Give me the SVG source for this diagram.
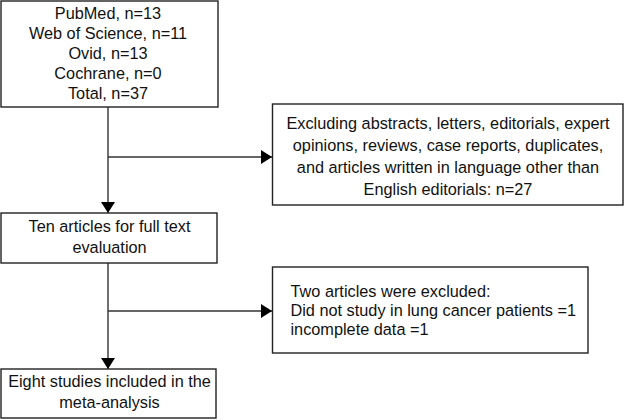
<svg xmlns="http://www.w3.org/2000/svg" width="626" height="420" viewBox="0 0 626 420">
<style>
.box{fill:#fff;stroke:#222;stroke-width:1.4}
.t{font-family:"Liberation Sans",Arial,sans-serif;font-size:16.3px;fill:#111}
.c{text-anchor:middle}
.ln{fill:none;stroke:#333;stroke-width:1.4}
</style>
<defs>
<marker id="ah" markerUnits="userSpaceOnUse" markerWidth="12" markerHeight="14" refX="11" refY="7" orient="auto">
<path d="M0,0 L11,7 L0,14 Z" fill="#000"/>
</marker>
</defs>
<rect width="626" height="420" fill="#fff"/>
<g id="connectors">
<line class="ln" x1="108" y1="107" x2="108" y2="213" marker-end="url(#ah)"/>
<line class="ln" x1="108" y1="157" x2="272" y2="157" marker-end="url(#ah)"/>
<line class="ln" x1="108" y1="263" x2="108" y2="369" marker-end="url(#ah)"/>
<line class="ln" x1="108" y1="311" x2="272" y2="311" marker-end="url(#ah)"/>
</g>
<g id="search">
<rect class="box" x="1" y="1" width="217" height="106"/>
<text class="t c" x="108" y="19">PubMed, n=13</text>
<text class="t c" x="108" y="39">Web of Science, n=11</text>
<text class="t c" x="108" y="59">Ovid, n=13</text>
<text class="t c" x="108" y="79">Cochrane, n=0</text>
<text class="t c" x="108" y="99">Total, n=37</text>
</g>
<g id="exclude1">
<rect class="box" x="272.5" y="104" width="350.5" height="101"/>
<text class="t c" x="448" y="129">Excluding abstracts, letters, editorials, expert</text>
<text class="t c" x="448" y="151">opinions, reviews, case reports, duplicates,</text>
<text class="t c" x="448" y="173">and articles written in language other than</text>
<text class="t c" x="448" y="195">English editorials: n=27</text>
</g>
<g id="fulltext">
<rect class="box" x="1" y="213" width="216" height="50"/>
<text class="t c" x="109.5" y="232">Ten articles for full text</text>
<text class="t c" x="109.5" y="253">evaluation</text>
</g>
<g id="exclude2">
<rect class="box" x="272.5" y="267" width="315.5" height="86"/>
<text class="t" x="290.5" y="297">Two articles were excluded:</text>
<text class="t" x="290.5" y="316">Did not study in lung cancer patients =1</text>
<text class="t" x="290.5" y="335">incomplete data =1</text>
</g>
<g id="included">
<rect class="box" x="1" y="369" width="215" height="49"/>
<text class="t c" x="109.5" y="387">Eight studies included in the</text>
<text class="t c" x="109.5" y="408">meta-analysis</text>
</g>
</svg>
